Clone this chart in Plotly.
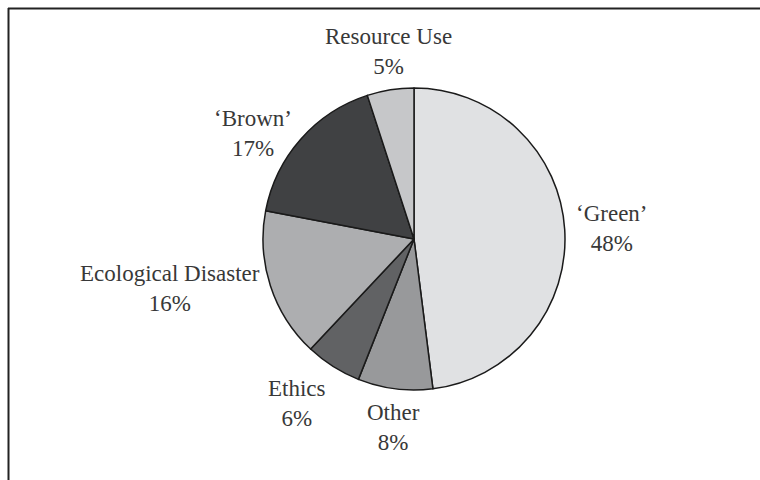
import math
import plotly.graph_objects as go

labels = ["‘Green’", "Other", "Ethics", "Ecological Disaster", "‘Brown’", "Resource Use"]
values = [48, 8, 6, 16, 17, 5]
colors = ["#e0e1e3", "#98999b", "#616264", "#adaeb0", "#404143", "#c6c7c9"]

W, H = 760, 480
cx, cy, r = 414, 239, 151
FS = 23
FONT = "Liberation Serif"
TEXT_COLOR = "#383838"
GAP = 9

fig = go.Figure(go.Pie(
    labels=labels,
    values=values,
    sort=False,
    direction="clockwise",
    rotation=0,
    marker=dict(colors=colors, line=dict(color="#1a1a1a", width=1.5)),
    textinfo="none",
    showlegend=False,
    hoverinfo="skip",
    domain=dict(x=[(cx - r) / W, (cx + r) / W], y=[(H - cy - r) / H, (H - cy + r) / H]),
))

# Outside labels anchored just beyond the rim at each slice's mid-angle
total = sum(values)
annotations = []
cum = 0
for lab, v in zip(labels, values):
    mid = math.radians((cum + v / 2) / total * 360)
    cum += v
    ux, uy = math.sin(mid), math.cos(mid)
    pct = f"{round(v / total * 100)}%"
    px = cx + (r + GAP) * ux
    py = cy - (r + GAP) * uy
    xanchor = "left" if ux > 0.3 else ("right" if ux < -0.3 else "center")
    yanchor = "bottom" if uy > 0.7 else ("top" if uy < -0.7 else "middle")
    annotations.append(dict(
        x=px / W, y=1 - py / H, xref="paper", yref="paper",
        text=f"{lab}<br>{pct}", showarrow=False,
        xanchor=xanchor, yanchor=yanchor, align="center",
        font=dict(family=FONT, size=FS, color=TEXT_COLOR),
    ))

fig.update_layout(
    width=W, height=H,
    margin=dict(l=0, r=0, t=0, b=0),
    paper_bgcolor="white",
    plot_bgcolor="white",
    annotations=annotations,
    shapes=[
        dict(type="line", xref="paper", yref="paper", x0=8.5 / W, x1=8.5 / W, y0=0, y1=1 - 8 / H,
             line=dict(color="#222222", width=2)),
        dict(type="line", xref="paper", yref="paper", x0=8 / W, x1=1, y0=1 - 8.5 / H, y1=1 - 8.5 / H,
             line=dict(color="#222222", width=2)),
    ],
)

fig.write_html("out.html")
